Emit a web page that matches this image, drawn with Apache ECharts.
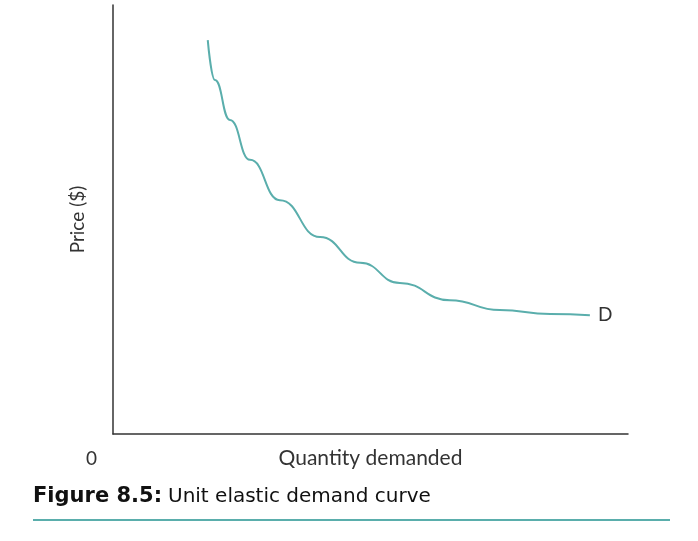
<!DOCTYPE html>
<html><head><meta charset="utf-8">
<script src="https://cdn.jsdelivr.net/npm/echarts@6/dist/echarts.min.js"></script>
<style>body{margin:0;background:#fff}#c{width:698px;height:541px}</style>
</head><body><div id="c"></div>
<script>
// demand curve points (x: quantity, y: price, 0-100 scale)
var qty = [18.4, 19.8, 22.7, 26.6, 32.4, 40.2, 48.0, 55.7, 65.4, 75.1, 84.9, 92.6];
var price = [91.8, 82.5, 73.2, 63.9, 54.5, 45.9, 39.9, 35.2, 31.2, 28.9, 28.0, 27.7];
var curveName = "D";

var data = qty.map(function (q, i) { return [q, price[i]]; });
var chart = echarts.init(document.getElementById("c"));
chart.setOption({
    animation: false,
    grid: { left: 113, right: 70, top: 5, bottom: 107 },
    xAxis: {
        type: "value", min: 0, max: 100,
        axisLine: { lineStyle: { color: "#333", width: 1.5 } },
        axisTick: { show: false }, axisLabel: { show: false }, splitLine: { show: false },
        name: "Quantity demanded", nameLocation: "middle", nameGap: 14,
        nameTextStyle: { fontFamily: "Lato", fontSize: 21, color: "#333", verticalAlign: "top" }
    },
    yAxis: {
        type: "value", min: 0, max: 100,
        axisLine: { lineStyle: { color: "#333", width: 1.5 } },
        axisTick: { show: false }, axisLabel: { show: false }, splitLine: { show: false },
        name: "Price ($)", nameLocation: "middle", nameGap: 26,
        nameTextStyle: { fontFamily: "Lato", fontSize: 19, color: "#333" }
    },
    series: [{
        type: "line", name: curveName, data: data, smooth: 0.5, smoothMonotone: "x", symbol: "none",
        lineStyle: { color: "#5aaeac", width: 2 },
        endLabel: { show: true, formatter: curveName, fontFamily: "Lato", fontSize: 19, color: "#333", distance: 8 }
    }],
    graphic: [
        { type: "text", left: 86, top: 449, style: { text: "0", font: "19px Lato", fill: "#333" } },
        { type: "text", left: 33, top: 486, style: { text: "Figure 8.5:", font: "bold 21px 'DejaVu Sans'", fill: "#111" } },
        { type: "text", left: 168, top: 487, style: { text: "Unit elastic demand curve", font: "20px 'DejaVu Sans'", fill: "#111" } },
        { type: "line", shape: { x1: 33, y1: 520, x2: 670, y2: 520 }, style: { stroke: "#5aaeac", lineWidth: 2 } }
    ]
});
</script></body></html>
